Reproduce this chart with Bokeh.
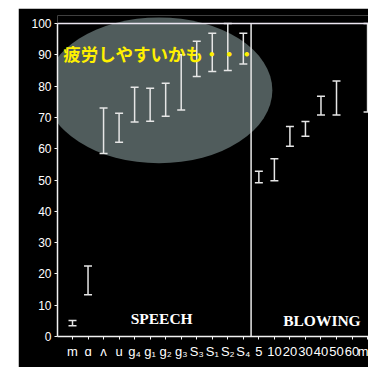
import math
from bokeh.plotting import figure
from bokeh.models import ColumnDataSource, FixedTicker, Span, Spacer
from bokeh.layouts import row, column
from bokeh.core.properties import value
from bokeh.embed import file_html
from bokeh.resources import INLINE

# ---- data ----
categories = ["m", "ɑ", "ʌ", "u", "g₄", "g₁", "g₂", "g₃", "S₃", "S₁", "S₂", "S₄",
              "5", "10", "20", "30", "40", "50", "60", "m"]
upper_vals = [5.1, 22.5, 73.0, 71.3, 79.6, 79.3, 80.9, 90.0, 94.3, 96.9, 100.0, 96.9,
              52.8, 56.8, 67.1, 68.7, 76.8, 81.6, None, 100.0]
lower_vals = [3.4, 13.3, 58.5, 62.1, 68.5, 68.8, 70.4, 72.4, 83.1, 84.7, 85.0, 87.1,
              49.1, 49.8, 60.8, 64.0, 70.8, 70.8, None, 71.7]
y_ticks = [0, 10, 20, 30, 40, 50, 60, 70, 80, 90, 100]
section_names = ["SPEECH", "BLOWING"]
note_text = "疲労しやすいかも・・・"

# ---- layout constants ----
n_speech = 12
boundary = n_speech - 0.5
y_top = 100

xs, ups, los = [], [], []
for i, (u, l) in enumerate(zip(upper_vals, lower_vals)):
    if u is None or l is None:
        continue
    xs.append(i); ups.append(u); los.append(l)
src = ColumnDataSource(dict(x=xs, upper=ups, lower=los))

p = figure(width=350, height=359, x_range=(-0.966, 19.06), y_range=(0, 102.56),
           output_backend="svg", toolbar_location=None,
           background_fill_color="black", border_fill_color="black",
           min_border_left=39, min_border_right=0, min_border_top=7, min_border_bottom=31)
p.outline_line_color = None
p.xgrid.visible = False
p.ygrid.visible = False

# highlight ellipse
p.ellipse(x=[5.57], y=[78.66], width=14.6, height=46.6,
          fill_color="#505c5c", line_color=None)

# frame lines
p.add_layout(Span(location=y_top, dimension="width", line_color="#ece6f2", line_width=1.5))
p.segment(x0=[boundary], y0=[0], x1=[boundary], y1=[y_top], line_color="#e8e8e8", line_width=1.5)

# error bars
bar_col = "#e6e6e6"
p.segment(x0="x", y0="lower", x1="x", y1="upper", source=src, line_color=bar_col, line_width=1.5)
p.scatter(x="x", y="upper", source=src, marker="dash", size=8, line_color=bar_col, line_width=1.5)
p.scatter(x="x", y="lower", source=src, marker="dash", size=8, line_color=bar_col, line_width=1.5)

# section labels
p.text(x=[5.74, 16.06], y=[5.6, 5.0], text=section_names,
       text_font=value("Liberation Serif"), text_font_style="bold", text_font_size="15.5px",
       text_color="white", text_align="center", text_baseline="middle")

# note
p.text(x=[-0.6], y=[90.3], text=[note_text],
       text_font=value("Noto Sans CJK JP"), text_font_style="bold", text_font_size="17.5px",
       text_color="#fff000", text_align="left", text_baseline="middle")

# axes
p.yaxis.ticker = FixedTicker(ticks=y_ticks)
p.yaxis.bounds = (0, 100)
p.xaxis.ticker = FixedTicker(ticks=list(range(len(categories))))
p.xaxis.major_label_overrides = {i: c for i, c in enumerate(categories)}
for ax in (p.xaxis, p.yaxis):
    ax.axis_line_color = "#f2f2f2"
    ax.axis_line_width = 1.5
    ax.major_tick_line_color = "#f2f2f2"
    ax.major_tick_in = 0
    ax.major_tick_out = 3
    ax.minor_tick_line_color = None
    ax.major_label_text_color = "white"
p.yaxis.major_label_text_font = "Liberation Sans"
p.yaxis.major_label_text_font_size = "12px"
p.yaxis.major_label_standoff = 3
p.xaxis.major_label_text_font = "Liberation Sans"
p.xaxis.major_label_text_font_size = "13px"
p.xaxis.major_label_standoff = 4

layout = column(Spacer(width=368, height=8), row(Spacer(width=18, height=359), p))
open("out.html", "w").write(file_html(layout, INLINE))
